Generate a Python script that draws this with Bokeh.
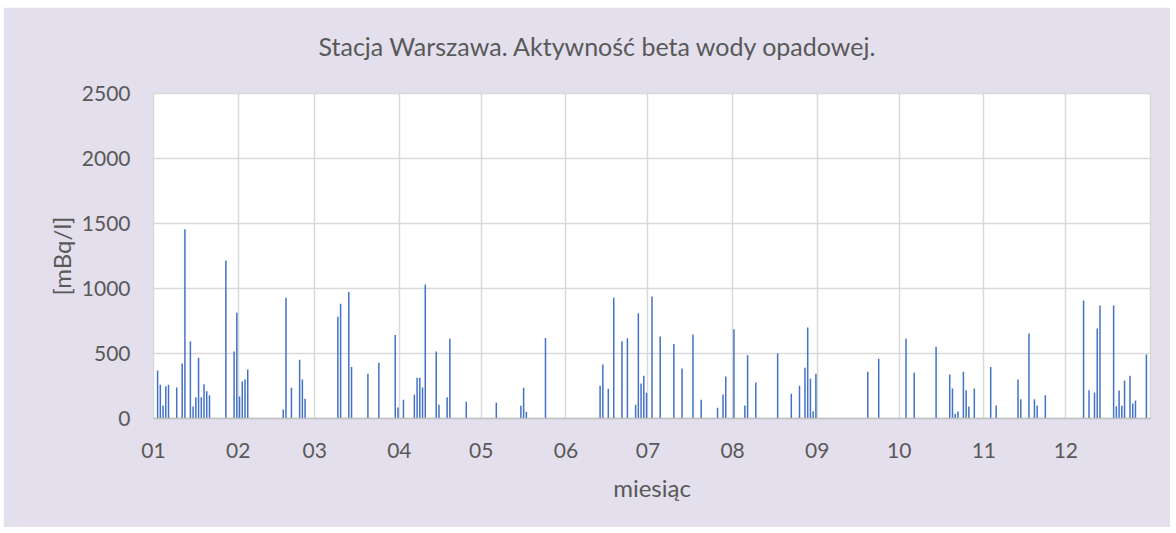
from bokeh.plotting import figure
from bokeh.models import FixedTicker, Range1d, ColumnDataSource, Title, Spacer
from bokeh.layouts import column, row
from bokeh.embed import file_html
from bokeh.resources import INLINE

# day of year (1 = 1 Jan) of each measurement
days = [2, 3, 4, 5, 6, 9, 11, 12, 14, 15, 16, 17, 18, 19, 20, 21, 27, 30, 31, 32, 33, 34, 35,
        48, 49, 51, 54, 55, 56, 68, 69, 72, 73, 79, 83, 89, 90, 92, 96, 97, 98, 99, 100,
        104, 105, 108, 109, 115, 126, 135, 136, 137, 144,
        164, 165, 167, 169, 172, 174, 177, 178, 179, 180, 181,
        183, 186, 191, 194, 198, 201, 207, 209, 210, 213, 217, 218,
        221, 229, 234, 237, 239, 240, 241, 242, 243,
        262, 266, 276, 279, 287, 292, 293, 294, 295, 297, 298, 299, 301,
        307, 309, 317, 318, 321, 323, 324, 327,
        341, 343, 345, 346, 347, 352, 353, 354, 355, 356, 358, 359, 360, 364]
# beta activity [mBq/l]
values = [369, 259, 100, 249, 259, 238, 423, 1455, 594, 92, 164, 467, 164, 264, 210, 179, 1215, 515, 813, 169, 285, 300, 377,
          69, 928, 236, 451, 300, 151, 782, 882, 974, 397, 344, 428, 643, 85, 144, 182, 313, 313, 238, 1030,
          515, 105, 164, 613, 128, 121, 98, 236, 51, 620,
          251, 415, 228, 928, 594, 618, 105, 810, 269, 328, 198,
          938, 631, 574, 385, 646, 144, 82, 185, 323, 687, 100, 487,
          277, 500, 190, 251, 390, 700, 305, 56, 344,
          359, 459, 613, 351, 551, 338, 231, 36, 54, 359, 218, 92, 231,
          397, 100, 300, 149, 654, 149, 100, 179,
          907, 218, 200, 692, 869, 869, 95, 215, 98, 292, 328, 115, 138, 492]
month_labels = ["01", "02", "03", "04", "05", "06", "07", "08", "09", "10", "11", "12"]
month_start_days = [1, 32, 60, 91, 121, 152, 182, 213, 244, 274, 305, 335]
y_ticks = [0, 500, 1000, 1500, 2000, 2500]

FONT = "Lato"
TXT = "#595959"

src = ColumnDataSource(dict(x=[d - 0.5 for d in days], v=values))
month_pos = [d - 1 for d in month_start_days]

p = figure(width=1167, height=520, output_backend="svg", toolbar_location=None,
           x_range=Range1d(0, 365), y_range=Range1d(0, 2500),
           min_border_left=150, min_border_right=20, min_border_top=86, min_border_bottom=109,
           background_fill_color="white", border_fill_color="#E4DFEC")
p.outline_line_color = "#D9D9D9"
p.outline_line_width = 1.5

p.vbar(x="x", top="v", width=0.55, source=src, color="#4472C4", line_width=0)

# empty gap panel between frame and title
gap = Title(text=" ", text_font_size="1px", standoff=9)
p.add_layout(gap, "above")
t = Title(text="Stacja Warszawa. Aktywność beta wody opadowej.", align="left", offset=165,
          text_font=FONT, text_font_size="25px", text_font_style="normal", text_color=TXT,
          standoff=42)
p.add_layout(t, "above")

xa = p.xaxis[0]
xa.ticker = FixedTicker(ticks=month_pos)
xa.major_label_overrides = {m: lab for m, lab in zip(month_pos, month_labels)}
xa.axis_label = "miesiąc"
xa.axis_line_color = "#BFBFBF"
xa.axis_line_width = 1.5
xa.major_tick_line_color = None
xa.minor_tick_line_color = None
xa.major_label_standoff = 18
xa.axis_label_standoff = 12

ya = p.yaxis[0]
ya.ticker = FixedTicker(ticks=y_ticks)
ya.axis_label = "[mBq/l]"
ya.axis_line_color = None
ya.major_tick_line_color = None
ya.minor_tick_line_color = None
ya.major_label_standoff = 17
ya.axis_label_standoff = 3

for ax in (xa, ya):
    ax.major_label_text_font = FONT
    ax.major_label_text_font_size = "21px"
    ax.major_label_text_color = TXT
    ax.axis_label_text_font = FONT
    ax.axis_label_text_font_size = "24px"
    ax.axis_label_text_font_style = "normal"
    ax.axis_label_text_color = TXT

p.xgrid.ticker = FixedTicker(ticks=month_pos)
p.xgrid.grid_line_color = "#D9D9D9"
p.xgrid.grid_line_width = 1.5
p.ygrid.ticker = FixedTicker(ticks=y_ticks)
p.ygrid.grid_line_color = "#D9D9D9"
p.ygrid.grid_line_width = 1.5

layout = column(Spacer(height=7), row(Spacer(width=3), p))
open("out.html", "w").write(file_html(layout, INLINE))
